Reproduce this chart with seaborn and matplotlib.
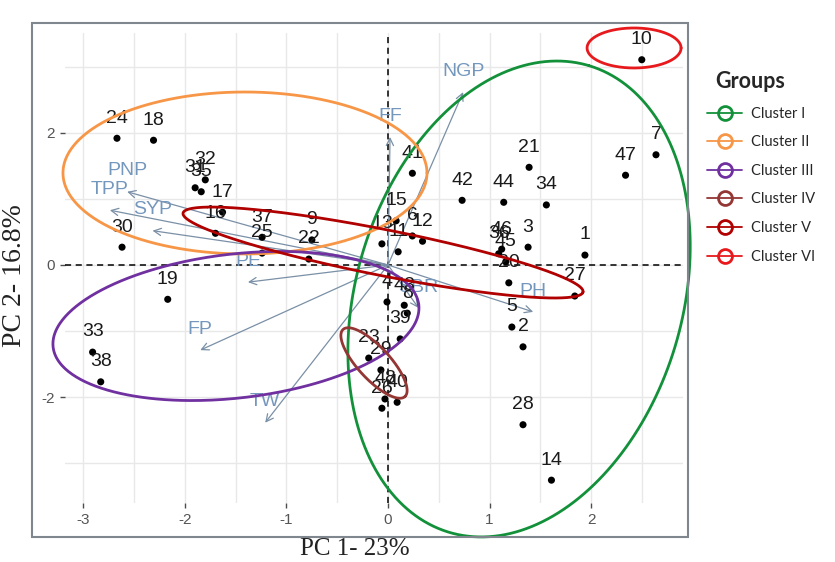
import numpy as np
import pandas as pd
import matplotlib
matplotlib.use("Agg")
import matplotlib.pyplot as plt
from matplotlib.lines import Line2D
from matplotlib.patches import Rectangle
import seaborn as sns

# Genotype scores on the first two principal components
genotypes = [str(i) for i in range(1, 49)]
pc1 = [1.94, 1.33, 1.38, -0.01, 1.22, 0.24, 2.64, 0.19, -0.75, 2.50,
       0.10, 0.34, -0.06, 1.61, 0.08, -1.70, -1.63, -2.31, -2.17, 1.19,
       1.39, -0.78, -0.19, -2.67, -1.24, -0.06, 1.84, 1.33, -0.07, -2.62,
       -1.90, -1.80, -2.91, 1.56, -1.84, 1.09, -1.24, -2.83, 0.12, 0.09,
       0.24, 0.73, 0.16, 1.14, 1.16, 1.12, 2.34, -0.03]
pc2 = [0.15, -1.24, 0.27, -0.56, -0.94, 0.44, 1.67, -0.73, 0.38, 3.11,
       0.20, 0.36, 0.32, -3.26, 0.67, 0.48, 0.80, 1.89, -0.52, -0.27,
       1.48, 0.09, -1.41, 1.92, 0.18, -2.17, -0.47, -2.42, -1.59, 0.27,
       1.17, 1.29, -1.32, 0.91, 1.11, 0.17, 0.42, -1.77, -1.12, -2.08,
       1.39, 0.98, -0.61, 0.95, 0.05, 0.24, 1.36, -2.03]

# Trait loadings, scaled to the score axes
traits = ["NGP", "FF", "PNP", "TPP", "SYP", "PE", "FP", "TW", "PH", "SBR"]
trait_pc1 = [0.74, 0.02, -2.57, -2.74, -2.32, -1.38, -1.85, -1.21, 1.43, 0.30]
trait_pc2 = [2.62, 1.94, 1.11, 0.83, 0.52, -0.26, -1.29, -2.39, -0.71, -0.65]

# Cluster outlines: centre plus two conjugate semi-diameters
clusters = ["Cluster I", "Cluster II", "Cluster III", "Cluster IV", "Cluster V", "Cluster VI"]
cluster_colors = ["#13913a", "#F79646", "#7030A0", "#943634", "#B00000", "#E8191C"]
cluster_cx = [1.291, -1.409, -1.498, -0.138, -0.049, 2.424]
cluster_cy = [-0.515, 1.394, -0.924, -1.485, 0.189, 3.288]
cluster_a = [(0.689, 3.535), (1.793, 0.0), (1.801, 0.321), (0.305, -0.508), (1.970, -0.598), (0.463, 0.0)]
cluster_b = [(1.539, -0.709), (0.0, 1.227), (0.082, -1.083), (-0.116, -0.165), (-0.044, -0.342), (0.0, -0.303)]

x_ticks = [-3, -2, -1, 0, 1, 2]
y_ticks = [-2, 0, 2]

scores = pd.DataFrame({"genotype": genotypes, "PC1": pc1, "PC2": pc2})

sns.set_style("white")
plt.rcParams["font.family"] = ["Liberation Sans", "DejaVu Sans"]

W, H = 835, 562
fig = plt.figure(figsize=(W / 100, H / 100), dpi=100)
ax = fig.add_axes([65 / W, 1 - 503 / H, 618 / W, 470 / H])
ax.set_xlim(-3.182, 2.906)
ax.set_ylim(-3.606, 3.515)

for s in ax.spines.values():
    s.set_visible(False)

ax.set_xticks(x_ticks)
ax.set_xticklabels([str(v) for v in x_ticks])
ax.set_xticks(np.arange(-3, 3.0, 0.5), minor=True)
ax.set_yticks(y_ticks)
ax.set_yticklabels([str(v) for v in y_ticks])
ax.set_yticks([-3, -1, 1, 3], minor=True)
ax.grid(True, which="both", color="#e8e8e8", lw=1.0, zorder=0)
ax.set_axisbelow(True)
ax.tick_params(axis="both", which="major", length=3.5, width=1, color="#4d4d4d",
               labelcolor="#555555", labelsize=11, pad=4, direction="out",
               bottom=True, left=True)
ax.tick_params(axis="both", which="minor", length=0)

ax.axhline(0, color="black", lw=1.1, ls=(0, (4, 3)), zorder=1)
ax.axvline(0, color="black", lw=1.1, ls=(0, (4, 3)), zorder=1)

# Trait loading arrows
for name, tx, ty in zip(traits, trait_pc1, trait_pc2):
    ax.annotate("", xy=(tx, ty), xytext=(0, 0),
                arrowprops=dict(arrowstyle="->", color="#7a90a6", lw=0.9,
                                mutation_scale=13, shrinkA=0, shrinkB=0),
                zorder=2)
    ax.annotate(name, (tx, ty), xytext=(0, 15), textcoords="offset points",
                ha="center", va="center", fontsize=14, color="#7497bd", zorder=4)

# Genotype scores
sns.scatterplot(data=scores, x="PC1", y="PC2", ax=ax, color="black", s=26,
                edgecolor="none", legend=False, zorder=3)
for g, x, y in zip(genotypes, pc1, pc2):
    ax.annotate(g, (x, y), xytext=(0, 14.5), textcoords="offset points",
                ha="center", va="center", fontsize=14, color="#1a1a1a", zorder=4)

# Cluster outlines
t = np.linspace(0, 2 * np.pi, 400)
for col, cx, cy, a, b in zip(cluster_colors, cluster_cx, cluster_cy, cluster_a, cluster_b):
    ex = cx + a[0] * np.cos(t) + b[0] * np.sin(t)
    ey = cy + a[1] * np.cos(t) + b[1] * np.sin(t)
    ax.plot(ex, ey, color=col, lw=2.0, clip_on=False, zorder=5)

ax.set_xlabel("")
ax.set_ylabel("")

# Outer frame around the plotting panel
fig.patches.append(Rectangle((32 / W, 1 - 537 / H), 656 / W, 514 / H,
                             transform=fig.transFigure, fill=False,
                             edgecolor="#80868d", lw=1.5))

fig.text(355 / W, 1 - 549 / H, "PC 1- 23%", ha="center", va="center",
         fontsize=18, family="Liberation Serif", color="#222222")
fig.text(15 / W, 1 - 276 / H, "PC 2- 16.8%", ha="center", va="center",
         rotation=90, fontsize=20, family="Liberation Serif", color="#222222")

handles = [Line2D([0], [0], color=c, lw=1.3, marker="o", markersize=10,
                  markerfacecolor="none", markeredgecolor=c, markeredgewidth=2)
           for c in cluster_colors]
leg = fig.legend(handles, clusters, loc="upper left",
                 bbox_to_anchor=(694 / W, 1 - 58 / H), frameon=False,
                 title="Groups", title_fontproperties={"family": "Lato", "weight": "bold", "size": 15.5},
                 prop={"family": "Lato", "size": 10.5}, handlelength=2.4,
                 handletextpad=0.6, labelspacing=1.0)
leg._legend_box.align = "left"
leg.get_title().set_position((8, 0))

fig.savefig("out.png", dpi=100)
